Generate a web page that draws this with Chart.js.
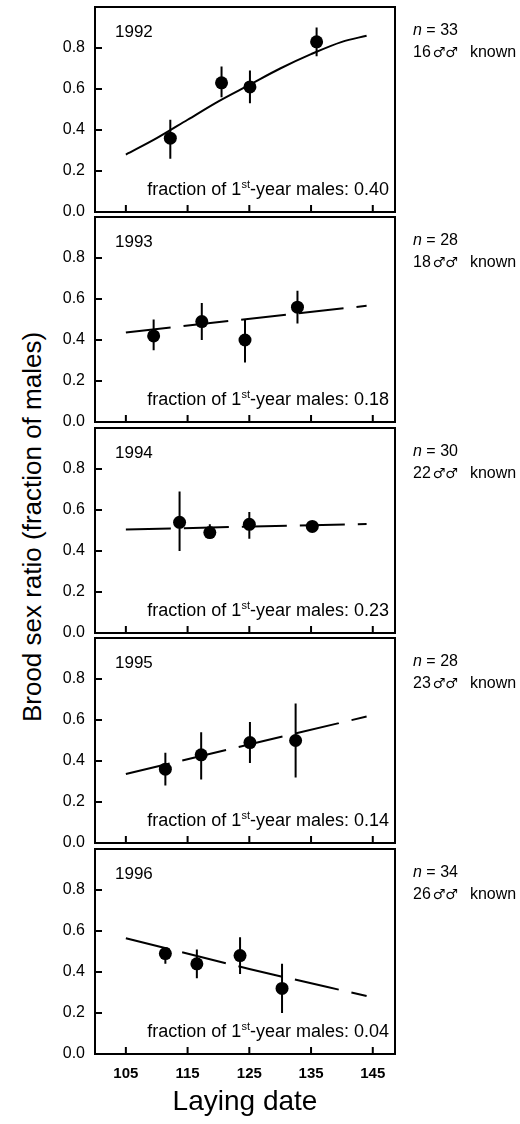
<!DOCTYPE html>
<html>
<head>
<meta charset="utf-8">
<script src="https://cdn.jsdelivr.net/npm/chart.js@4.4.1/dist/chart.umd.min.js"></script>
<style>
  body { margin: 0; background: #fff; }
  #wrap { position: relative; width: 520px; height: 1124px; overflow: hidden; background: #fff; }
  #wrap canvas { position: absolute; left: 0; }
  #ytitle {
    position: absolute; left: -188px; top: 512px;
    width: 440px; height: 30px; line-height: 30px;
    text-align: center; white-space: nowrap; color: #000;
    font: 26px 'Liberation Sans', Arial, sans-serif;
    transform: rotate(-90deg);
  }
</style>
</head>
<body>
<div id="wrap">
  <div id="ytitle">Brood sex ratio (fraction of males)</div>
</div>
<script>
const years = ['1992', '1993', '1994', '1995', '1996']
const nBroods = [33, 28, 30, 28, 34]
const knownMales = [16, 18, 22, 23, 26]
const firstYearFraction = ['0.40', '0.18', '0.23', '0.14', '0.04']

const layingDates = [
  [112.2, 120.5, 125.1, 135.9],
  [109.5, 117.3, 124.3, 132.8],
  [113.7, 118.6, 125.0, 135.2],
  [111.4, 117.2, 125.1, 132.5],
  [111.4, 116.5, 123.5, 130.3]
]
const sexRatio = [
  [0.36, 0.63, 0.61, 0.83],
  [0.42, 0.49, 0.40, 0.56],
  [0.54, 0.49, 0.53, 0.52],
  [0.36, 0.43, 0.49, 0.50],
  [0.49, 0.44, 0.48, 0.32]
]
const errLow = [
  [0.26, 0.56, 0.53, 0.76],
  [0.35, 0.40, 0.29, 0.48],
  [0.40, 0.46, 0.46, 0.50],
  [0.28, 0.31, 0.39, 0.32],
  [0.44, 0.37, 0.39, 0.20]
]
const errHigh = [
  [0.45, 0.71, 0.69, 0.90],
  [0.50, 0.58, 0.50, 0.64],
  [0.69, 0.53, 0.59, 0.54],
  [0.44, 0.54, 0.59, 0.68],
  [0.52, 0.51, 0.57, 0.44]
]

// fitted curves
const fitDates = [
  [105, 110, 115, 120, 125, 130, 135, 140, 144],
  [105, 144],
  [105, 144],
  [105, 144],
  [105, 125, 144]
]
const fitValues = [
  [0.28, 0.36, 0.45, 0.54, 0.62, 0.70, 0.77, 0.83, 0.86],
  [0.437, 0.567],
  [0.505, 0.532],
  [0.337, 0.617],
  [0.565, 0.415, 0.283]
]
const fitSignificant = [true, false, false, false, false]

const dateTicks = [105, 115, 125, 135, 145]
const ratioTicks = [0, 0.2, 0.4, 0.6, 0.8]

// layout
const panelTops = [7, 217, 428, 638, 849]
const panelHeight = 205
const margin = 26
const plotLeft = 95
const plotRight = 395
const FONT = "'Liberation Sans', Arial, sans-serif"

Chart.defaults.font.family = FONT
Chart.defaults.color = '#000'

const panelDecor = {
  id: 'panelDecor',
  afterDraw(chart) {
    const i = chart.options.plugins.panelDecor.index
    const { ctx, chartArea: a } = chart
    const x = chart.scales.x
    const y = chart.scales.y
    ctx.save()
    ctx.strokeStyle = '#000'
    ctx.lineWidth = 2
    ctx.strokeRect(a.left, a.top, a.right - a.left, a.bottom - a.top)
    ctx.beginPath()
    ratioTicks.forEach(v => {
      const py = y.getPixelForValue(v)
      ctx.moveTo(a.left, py)
      ctx.lineTo(a.left + 7, py)
    })
    dateTicks.forEach(v => {
      const px = x.getPixelForValue(v)
      ctx.moveTo(px, a.bottom)
      ctx.lineTo(px, a.bottom - 7)
    })
    ctx.stroke()

    ctx.fillStyle = '#000'
    ctx.textBaseline = 'alphabetic'
    ctx.textAlign = 'left'

    // year
    ctx.font = '17px ' + FONT
    ctx.fillText(years[i], 115, a.top + 30)

    // fraction of 1st-year males
    const big = '18px ' + FONT
    const small = '11px ' + FONT
    const p1 = 'fraction of 1', p2 = 'st', p3 = '-year males: ' + firstYearFraction[i]
    ctx.font = big
    const w1 = ctx.measureText(p1).width
    const w3 = ctx.measureText(p3).width
    ctx.font = small
    const w2 = ctx.measureText(p2).width
    let tx = 389 - (w1 + w2 + w3)
    const ty = a.top + 188
    ctx.font = big
    ctx.fillText(p1, tx, ty)
    tx += w1
    ctx.font = small
    ctx.fillText(p2, tx, ty - 7)
    tx += w2
    ctx.font = big
    ctx.fillText(p3, tx, ty)

    // n and known males
    let nx = 413
    ctx.font = 'italic 16px ' + FONT
    ctx.fillText('n', nx, a.top + 28)
    nx += ctx.measureText('n').width
    ctx.font = '16px ' + FONT
    ctx.fillText(' = ' + nBroods[i], nx, a.top + 28)

    let kx = 413
    const ky = a.top + 50
    ctx.fillText(String(knownMales[i]), kx, ky)
    kx += ctx.measureText(String(knownMales[i])).width + 2
    ctx.font = "14px 'DejaVu Sans', sans-serif"
    ctx.fillText('\u2642\u2642', kx, ky)
    kx += ctx.measureText('\u2642\u2642').width + 12
    ctx.font = '16px ' + FONT
    ctx.fillText('known', kx, ky)
    ctx.restore()
  }
}

const wrap = document.getElementById('wrap')

function makePanel(i) {
  const last = i === years.length - 1
  const top = panelTops[i] - margin
  const h = last ? 1124 - top : panelHeight + 2 * margin
  const canvas = document.createElement('canvas')
  canvas.width = 520
  canvas.height = h
  canvas.style.top = top + 'px'
  wrap.appendChild(canvas)

  const points = layingDates[i].map((d, k) => ({ x: d, y: sexRatio[i][k] }))
  const bars = []
  layingDates[i].forEach((d, k) => {
    bars.push({ x: d, y: errLow[i][k] }, { x: d, y: errHigh[i][k] }, { x: d, y: null })
  })
  const fit = fitDates[i].map((d, k) => ({ x: d, y: fitValues[i][k] }))

  return new Chart(canvas, {
    type: 'scatter',
    plugins: [panelDecor],
    data: {
      datasets: [
        {
          data: points,
          pointRadius: 6.5,
          pointBackgroundColor: '#000',
          pointBorderWidth: 0
        },
        {
          type: 'line',
          data: bars,
          borderColor: '#000',
          borderWidth: 2,
          pointRadius: 0,
          spanGaps: false
        },
        {
          type: 'line',
          data: fit,
          borderColor: '#000',
          borderWidth: 2,
          pointRadius: 0,
          borderDash: fitSignificant[i] ? [] : [45, 13],
          cubicInterpolationMode: 'monotone'
        }
      ]
    },
    options: {
      responsive: false,
      animation: false,
      events: [],
      layout: {
        autoPadding: false,
        padding: { top: margin, bottom: last ? 0 : margin, left: 0, right: 520 - plotRight }
      },
      plugins: {
        legend: { display: false },
        tooltip: { enabled: false },
        panelDecor: { index: i }
      },
      scales: {
        x: {
          type: 'linear',
          min: 100,
          max: 148.6,
          display: last,
          grid: { display: false, drawTicks: false },
          border: { display: false },
          afterBuildTicks: s => { s.ticks = dateTicks.map(v => ({ value: v })) },
          afterFit: s => { s.height = last ? h - margin - panelHeight : 0 },
          ticks: { padding: 11, font: { size: 15, weight: 'bold' } },
          title: {
            display: last,
            text: 'Laying date',
            font: { size: 28 },
            padding: { top: 0, bottom: 5 }
          }
        },
        y: {
          type: 'linear',
          min: 0,
          max: 1,
          grid: { display: false, drawTicks: false },
          border: { display: false },
          afterBuildTicks: s => { s.ticks = ratioTicks.map(v => ({ value: v })) },
          afterFit: s => { s.width = plotLeft },
          ticks: {
            padding: 10,
            font: { size: 16 },
            callback: v => Number(v).toFixed(1)
          }
        }
      }
    }
  })
}

years.forEach((y, i) => makePanel(i))
</script>
</body>
</html>
